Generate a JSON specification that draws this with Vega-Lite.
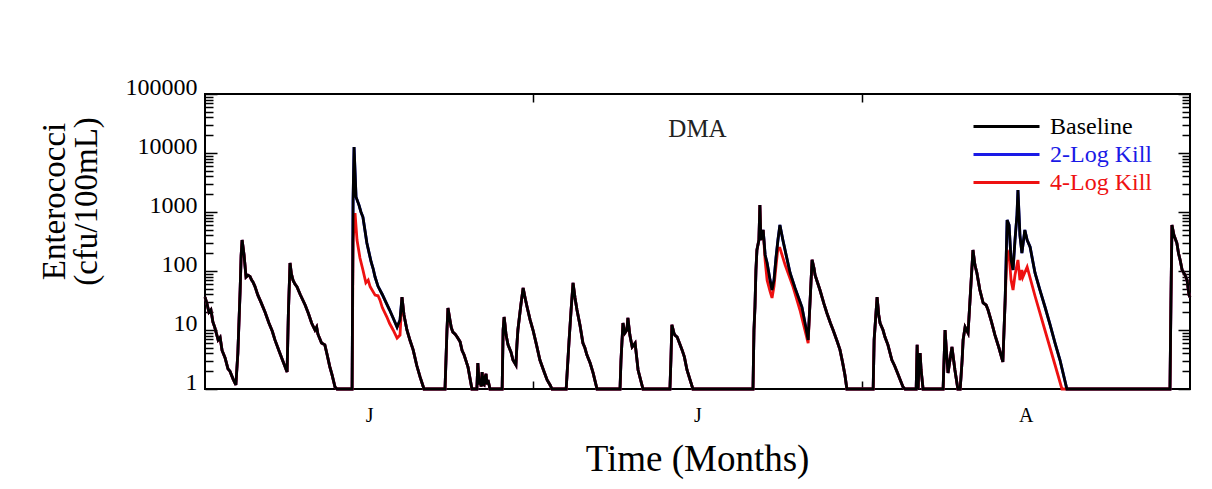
{
"$schema": "https://vega.github.io/schema/vega-lite/v6.json",
"width": 985, "height": 295,
"autosize": "none",
"padding": {"left": 205, "top": 94, "right": 22, "bottom": 100},
"background": "white",
"config": {"view": {"stroke": "black", "strokeWidth": 2}, "font": "Liberation Serif"},
"title": {"text": "DMA", "font": "Liberation Serif", "fontSize": 25, "fontWeight": "normal", "color": "#222222", "anchor": "middle", "offset": -43, "dy": 49, "baseline": "bottom"},
"data": {"values": [
{"t":0.000,"b":36,"r":36},{"t":0.006,"b":28,"r":28},{"t":0.012,"b":20,"r":20},{"t":0.018,"b":22,"r":22},{"t":0.024,"b":13.7,"r":13.7},{"t":0.030,"b":11,"r":11},{"t":0.034,"b":9,"r":9},{"t":0.040,"b":6.8,"r":6.8},{"t":0.046,"b":7.5,"r":7.5},{"t":0.052,"b":4.5,"r":4.5},{"t":0.061,"b":3.4,"r":3.4},{"t":0.070,"b":2.2,"r":2.2},{"t":0.076,"b":2.0,"r":2.0},{"t":0.085,"b":1.5,"r":1.5},{"t":0.094,"b":1.17,"r":1.17},
{"t":0.100,"b":4,"r":4},{"t":0.107,"b":47,"r":47},{"t":0.110,"b":180,"r":180},{"t":0.113,"b":335,"r":335},{"t":0.116,"b":250,"r":250},{"t":0.119,"b":186,"r":186},{"t":0.125,"b":79,"r":79},{"t":0.131,"b":85,"r":85},{"t":0.137,"b":81,"r":81},{"t":0.142,"b":70,"r":70},{"t":0.146,"b":65,"r":65},{"t":0.152,"b":55,"r":55},{"t":0.161,"b":39,"r":39},{"t":0.170,"b":30,"r":30},{"t":0.183,"b":20,"r":20},{"t":0.195,"b":13,"r":13},{"t":0.205,"b":9.5,"r":9.5},{"t":0.213,"b":6.8,"r":6.8},{"t":0.225,"b":4.5,"r":4.5},{"t":0.238,"b":2.9,"r":2.9},{"t":0.250,"b":1.94,"r":1.94},
{"t":0.254,"b":20,"r":20},{"t":0.259,"b":137,"r":137},{"t":0.263,"b":90,"r":90},{"t":0.268,"b":70,"r":70},{"t":0.274,"b":60,"r":60},{"t":0.280,"b":54,"r":54},{"t":0.290,"b":40,"r":40},{"t":0.305,"b":26.5,"r":26.5},{"t":0.315,"b":19,"r":19},{"t":0.325,"b":13,"r":13},{"t":0.335,"b":10,"r":10},{"t":0.340,"b":11.2,"r":11.2},{"t":0.344,"b":8.5,"r":8.5},{"t":0.355,"b":6,"r":6},{"t":0.365,"b":5.6,"r":5.6},{"t":0.372,"b":3.8,"r":3.8},{"t":0.380,"b":2.4,"r":2.4},{"t":0.387,"b":1.73,"r":1.73},{"t":0.396,"b":1.08,"r":1.08},{"t":0.402,"b":1,"r":1},{"t":0.448,"b":1,"r":1},
{"t":0.451,"b":1590,"r":335},{"t":0.454,"b":12600},{"t":0.457,"r":962},{"t":0.460,"b":1800},{"t":0.463,"r":335},{"t":0.469,"b":1310},{"t":0.472,"r":166},{"t":0.475,"b":1000},{"t":0.481,"b":822,"r":104},{"t":0.487,"b":496},{"t":0.490,"r":63},{"t":0.493,"b":298},{"t":0.497,"r":70},{"t":0.503,"r":54},{"t":0.506,"b":142},{"t":0.512,"b":110},{"t":0.518,"b":79,"r":39},{"t":0.527,"b":55,"r":38},{"t":0.533,"r":32},{"t":0.540,"b":40,"r":24},{"t":0.548,"b":32},{"t":0.554,"r":16.6},{"t":0.562,"b":22,"r":13},{"t":0.573,"b":16,"r":10},{"t":0.585,"b":11.2,"r":7.3},{"t":0.594,"b":14.8,"r":8.2},
{"t":0.600,"b":36,"r":36},{"t":0.606,"b":18,"r":18},{"t":0.615,"b":10,"r":10},{"t":0.625,"b":6.5,"r":6.5},{"t":0.634,"b":4.6,"r":4.6},{"t":0.645,"b":2.5,"r":2.5},{"t":0.655,"b":1.6,"r":1.6},{"t":0.667,"b":1,"r":1},{"t":0.731,"b":1,"r":1},
{"t":0.737,"b":10,"r":10},{"t":0.740,"b":23.6,"r":23.6},{"t":0.746,"b":14.8,"r":14.8},{"t":0.750,"b":11,"r":11},{"t":0.755,"b":9.2,"r":9.2},{"t":0.762,"b":8.5,"r":8.5},{"t":0.768,"b":7.6,"r":7.6},{"t":0.777,"b":6.3,"r":6.3},{"t":0.783,"b":4.5,"r":4.5},{"t":0.789,"b":3.8,"r":3.8},{"t":0.795,"b":3,"r":3},{"t":0.801,"b":2.36,"r":2.36},{"t":0.813,"b":1,"r":1},{"t":0.828,"b":1,"r":1},
{"t":0.831,"b":2.76,"r":2.76},{"t":0.835,"b":1.2,"r":1.2},{"t":0.838,"b":1.42,"r":1.42},{"t":0.841,"b":1.1,"r":1.1},{"t":0.844,"b":1.94,"r":1.94},{"t":0.847,"b":1.2,"r":1.2},{"t":0.850,"b":1.17,"r":1.17},{"t":0.853,"b":1.6,"r":1.6},{"t":0.856,"b":1.8,"r":1.8},{"t":0.859,"b":1.2,"r":1.2},{"t":0.862,"b":1.42,"r":1.42},{"t":0.868,"b":1,"r":1},{"t":0.905,"b":1,"r":1},
{"t":0.908,"b":10,"r":10},{"t":0.911,"b":16.6,"r":16.6},{"t":0.914,"b":12,"r":12},{"t":0.917,"b":8.2,"r":8.2},{"t":0.923,"b":5.6,"r":5.6},{"t":0.932,"b":4.2,"r":4.2},{"t":0.938,"b":3.1,"r":3.1},{"t":0.947,"b":2.55,"r":2.55},{"t":0.950,"b":5.6,"r":5.6},{"t":0.953,"b":10,"r":10},{"t":0.962,"b":26.5,"r":26.5},{"t":0.969,"b":51.5,"r":51.5},{"t":0.975,"b":34.9,"r":34.9},{"t":0.981,"b":24.5,"r":24.5},{"t":0.990,"b":15,"r":15},{"t":0.999,"b":10,"r":10},{"t":1.010,"b":5.5,"r":5.5},{"t":1.020,"b":3.1,"r":3.1},{"t":1.033,"b":1.94,"r":1.94},{"t":1.042,"b":1.42,"r":1.42},{"t":1.051,"b":1.17,"r":1.17},{"t":1.057,"b":1,"r":1},{"t":1.100,"b":1,"r":1},
{"t":1.109,"b":6.8,"r":6.8},{"t":1.115,"b":21.8,"r":21.8},{"t":1.121,"b":63,"r":63},{"t":1.127,"b":34.9,"r":34.9},{"t":1.133,"b":21.8,"r":21.8},{"t":1.142,"b":12.2,"r":12.2},{"t":1.151,"b":6.0,"r":6.0},{"t":1.157,"b":5,"r":5},{"t":1.163,"b":3.8,"r":3.8},{"t":1.173,"b":2.76,"r":2.76},{"t":1.182,"b":1.87,"r":1.87},{"t":1.194,"b":1,"r":1},{"t":1.264,"b":1,"r":1},
{"t":1.267,"b":3.1,"r":3.1},{"t":1.273,"b":13.1,"r":13.1},{"t":1.279,"b":8.9,"r":8.9},{"t":1.285,"b":10,"r":10},{"t":1.288,"b":16,"r":16},{"t":1.294,"b":8.2,"r":8.2},{"t":1.301,"b":5.15,"r":5.15},{"t":1.310,"b":6.0,"r":6.0},{"t":1.319,"b":2.1,"r":2.1},{"t":1.334,"b":1,"r":1},{"t":1.416,"b":1,"r":1},
{"t":1.419,"b":3.1,"r":3.1},{"t":1.422,"b":12.2,"r":12.2},{"t":1.428,"b":9,"r":9},{"t":1.431,"b":8.2,"r":8.2},{"t":1.438,"b":7.6,"r":7.6},{"t":1.447,"b":5.6,"r":5.6},{"t":1.453,"b":4.6,"r":4.6},{"t":1.460,"b":3.5,"r":3.5},{"t":1.468,"b":2.1,"r":2.1},{"t":1.486,"b":1,"r":1},{"t":1.669,"b":1,"r":1},
{"t":1.672,"b":10,"r":10},{"t":1.675,"b":24.5,"r":24.5},{"t":1.678,"b":104,"r":104},{"t":1.681,"b":227,"r":227},{"t":1.687,"b":335,"r":335},{"t":1.690,"b":1315,"r":1315},{"t":1.693,"b":335,"r":335},{"t":1.700,"b":496,"r":496},
{"t":1.706,"b":187,"r":150},{"t":1.712,"b":137,"r":70},{"t":1.721,"b":70,"r":45},{"t":1.727,"b":47.6,"r":35},{"t":1.733,"b":70,"r":55},{"t":1.739,"b":166,"r":120},{"t":1.745,"b":335,"r":245},{"t":1.751,"b":602,"r":245},{"t":1.760,"b":335},{"t":1.767,"r":126},{"t":1.770,"b":187},{"t":1.782,"b":92.5},{"t":1.791,"r":54},{"t":1.797,"b":51.5},{"t":1.812,"r":21.8},{"t":1.818,"b":24.5},{"t":1.830,"b":11},{"t":1.837,"b":6.8,"r":6.0},
{"t":1.843,"b":32,"r":32},{"t":1.849,"b":154,"r":154},{"t":1.855,"b":110,"r":110},{"t":1.858,"b":85.5,"r":85.5},{"t":1.865,"b":65,"r":65},{"t":1.873,"b":47.6,"r":47.6},{"t":1.885,"b":28,"r":28},{"t":1.894,"b":19.4,"r":19.4},{"t":1.905,"b":13,"r":13},{"t":1.913,"b":10,"r":10},{"t":1.925,"b":6.5,"r":6.5},{"t":1.934,"b":4.6,"r":4.6},{"t":1.942,"b":2.8,"r":2.8},{"t":1.949,"b":1.73,"r":1.73},{"t":1.955,"b":1,"r":1},{"t":2.035,"b":1,"r":1},
{"t":2.038,"b":6.8,"r":6.8},{"t":2.047,"b":36,"r":36},{"t":2.052,"b":18,"r":18},{"t":2.056,"b":13.1,"r":13.1},{"t":2.065,"b":10,"r":10},{"t":2.071,"b":7.6,"r":7.6},{"t":2.080,"b":5.6,"r":5.6},{"t":2.092,"b":3.1,"r":3.1},{"t":2.100,"b":2.5,"r":2.5},{"t":2.108,"b":1.94,"r":1.94},{"t":2.126,"b":1.08,"r":1.08},{"t":2.132,"b":1,"r":1},{"t":2.166,"b":1,"r":1},
{"t":2.169,"b":5.6,"r":5.6},{"t":2.172,"b":1,"r":1},{"t":2.175,"b":3.1,"r":3.1},{"t":2.178,"b":4.07,"r":4.07},{"t":2.181,"b":2.1,"r":2.1},{"t":2.187,"b":1,"r":1},{"t":2.248,"b":1,"r":1},
{"t":2.254,"b":10,"r":10},{"t":2.260,"b":3.1,"r":3.1},{"t":2.263,"b":1.87,"r":1.87},{"t":2.269,"b":3.1,"r":3.1},{"t":2.275,"b":5.15,"r":5.15},{"t":2.284,"b":2.1,"r":2.1},{"t":2.293,"b":1,"r":1},{"t":2.300,"b":1,"r":1},
{"t":2.306,"b":3.1,"r":3.1},{"t":2.309,"b":6.8,"r":6.8},{"t":2.315,"b":11.2,"r":11.2},{"t":2.324,"b":8.9,"r":8.9},{"t":2.330,"b":32,"r":32},{"t":2.339,"b":227,"r":227},{"t":2.345,"b":126,"r":126},{"t":2.351,"b":92.5,"r":92.5},{"t":2.360,"b":47.6,"r":47.6},{"t":2.370,"b":28.7,"r":28.7},{"t":2.379,"b":26.5,"r":26.5},{"t":2.385,"b":21.8,"r":21.8},{"t":2.395,"b":14,"r":14},{"t":2.406,"b":8.2,"r":8.2},{"t":2.418,"b":5,"r":5},{"t":2.430,"b":2.87,"r":2.87},{"t":2.437,"b":32,"r":32},
{"t":2.443,"b":731,"r":227},{"t":2.449,"b":602,"r":187},{"t":2.455,"b":154,"r":70},{"t":2.461,"b":104,"r":47.6},{"t":2.467,"b":335,"r":85.5},{"t":2.473,"b":889,"r":126},{"t":2.476,"b":2360,"r":154},{"t":2.482,"b":407,"r":70},{"t":2.488,"b":202,"r":104},{"t":2.491,"r":79},{"t":2.497,"b":496},{"t":2.504,"b":335,"r":117},{"t":2.513,"b":255},{"t":2.528,"b":92.5,"r":37.7},{"t":2.543,"b":47.6},{"t":2.558,"b":25,"r":10},{"t":2.574,"b":12.2},{"t":2.589,"b":6,"r":2.55},{"t":2.604,"b":3.1},{"t":2.610,"r":1},
{"t":2.625,"b":1,"r":1},{"t":2.939,"b":1,"r":1},{"t":2.942,"b":32,"r":32},{"t":2.945,"b":602,"r":602},{"t":2.951,"b":407,"r":407},{"t":2.960,"b":298,"r":298},{"t":2.965,"b":200,"r":200},{"t":2.970,"b":154,"r":154},{"t":2.976,"b":104,"r":104},{"t":2.985,"b":85.5,"r":85.5},{"t":2.991,"b":70,"r":70},{"t":2.997,"b":39,"r":39},{"t":3.000,"b":36,"r":36}
]},
"layer": [
{"transform": [{"filter": "isValid(datum.b)"}],
 "mark": {"type": "line", "strokeWidth": 2.8},
 "encoding": {
  "x": {"field": "t", "type": "quantitative", "axis": null, "scale": {"domain": [0, 3], "nice": false, "zero": false}},
  "y": {"field": "b", "type": "quantitative", "axis": null, "scale": {"type": "log", "domain": [1, 100000], "nice": false}},
  "color": {"datum": "2-Log Kill"}
 }},
{"transform": [{"filter": "isValid(datum.r)"}],
 "mark": {"type": "line", "strokeWidth": 2.8},
 "encoding": {
  "x": {"field": "t", "type": "quantitative", "axis": null},
  "y": {"field": "r", "type": "quantitative", "axis": null},
  "color": {"datum": "4-Log Kill"}
 }},
{"transform": [{"filter": "isValid(datum.b)"}],
 "mark": {"type": "line", "strokeWidth": 2.8},
 "encoding": {
  "x": {"field": "t", "type": "quantitative", "axis": {
    "orient": "bottom", "values": [0.5, 1, 1.5, 2, 2.5],
    "labelExpr": "datum.value == 2.5 ? 'A' : ((datum.value == 0.5 || datum.value == 1.5) ? 'J' : '')",
    "grid": false, "domain": false, "tickColor": "black", "tickSize": -8, "tickWidth": 1.5,
    "tickOpacity": {"condition": {"test": "datum.value == 1 || datum.value == 2", "value": 1}, "value": 0},
    "labelFont": "Liberation Serif", "labelFontSize": 20, "labelColor": "black", "labelBaseline": "alphabetic", "labelPadding": 40, "labelOverlap": false,
    "title": "Time (Months)", "titleFont": "Liberation Serif", "titleFontSize": 37, "titleFontWeight": "normal", "titleColor": "black",
    "titleX": 492, "titleY": 81, "titleBaseline": "alphabetic", "titleAlign": "center"}},
  "y": {"field": "b", "type": "quantitative", "axis": {
    "orient": "left",
    "values": [1,2,3,4,5,6,7,8,9,10,20,30,40,50,60,70,80,90,100,200,300,400,500,600,700,800,900,1000,2000,3000,4000,5000,6000,7000,8000,9000,10000,20000,30000,40000,50000,60000,70000,80000,90000,100000],
    "format": "d",
    "labelExpr": "indexof(['1','10','100','1000','10000','100000'], datum.label) >= 0 ? datum.label : ''",
    "grid": false, "domain": false, "tickColor": "black", "tickWidth": 1.5,
    "tickSize": {"condition": {"test": "indexof([1,10,100,1000,10000,100000], datum.value) >= 0", "value": -12}, "value": -8},
    "labelFont": "Liberation Serif", "labelFontSize": 24, "labelColor": "black", "labelBaseline": "alphabetic", "labelAlign": "right", "labelPadding": 20, "labelOverlap": false, "labelFlush": false,
    "title": ["Enterococci", "(cfu/100mL)"], "titleFont": "Liberation Serif", "titleFontSize": 33, "titleFontWeight": "normal", "titleColor": "black",
    "titleX": -151, "titleY": 107, "titleBaseline": "middle", "titleAlign": "center", "titleAngle": -90, "titleLineHeight": 32}},
  "color": {"datum": "Baseline", "scale": {"domain": ["Baseline", "2-Log Kill", "4-Log Kill"], "range": ["#000000", "#1a1ae6", "#ee1111"]},
    "legend": {"orient": "none", "legendX": 789, "legendY": 20, "title": null, "symbolType": "M-3,0H3", "symbolSize": 484, "symbolStrokeWidth": 3,
      "labelFont": "Liberation Serif", "labelFontSize": 24, "labelOffset": 31, "rowPadding": 3, "padding": 0, "labelLimit": 300,
      "encode": {"labels": {"update": {"fill": {"scale": "color", "field": "value"}}}}}}
 }},
{"transform": [{"filter": "isValid(datum.b)"}],
 "mark": {"type": "line", "opacity": 0},
 "encoding": {
  "x": {"field": "t", "type": "quantitative", "axis": {"orient": "top", "values": [1, 2], "labels": false, "grid": false, "domain": false, "tickColor": "black", "tickSize": -8, "tickWidth": 1.5, "title": null}},
  "y": {"field": "b", "type": "quantitative", "axis": {"orient": "right",
    "values": [1,2,3,4,5,6,7,8,9,10,20,30,40,50,60,70,80,90,100,200,300,400,500,600,700,800,900,1000,2000,3000,4000,5000,6000,7000,8000,9000,10000,20000,30000,40000,50000,60000,70000,80000,90000,100000],
    "labels": false, "grid": false, "domain": false, "tickColor": "black", "tickWidth": 1.5, "title": null,
    "tickSize": {"condition": {"test": "indexof([1,10,100,1000,10000,100000], datum.value) >= 0", "value": -12}, "value": -8}}}
 }}
],
"resolve": {"axis": {"x": "independent", "y": "independent"}}
}
